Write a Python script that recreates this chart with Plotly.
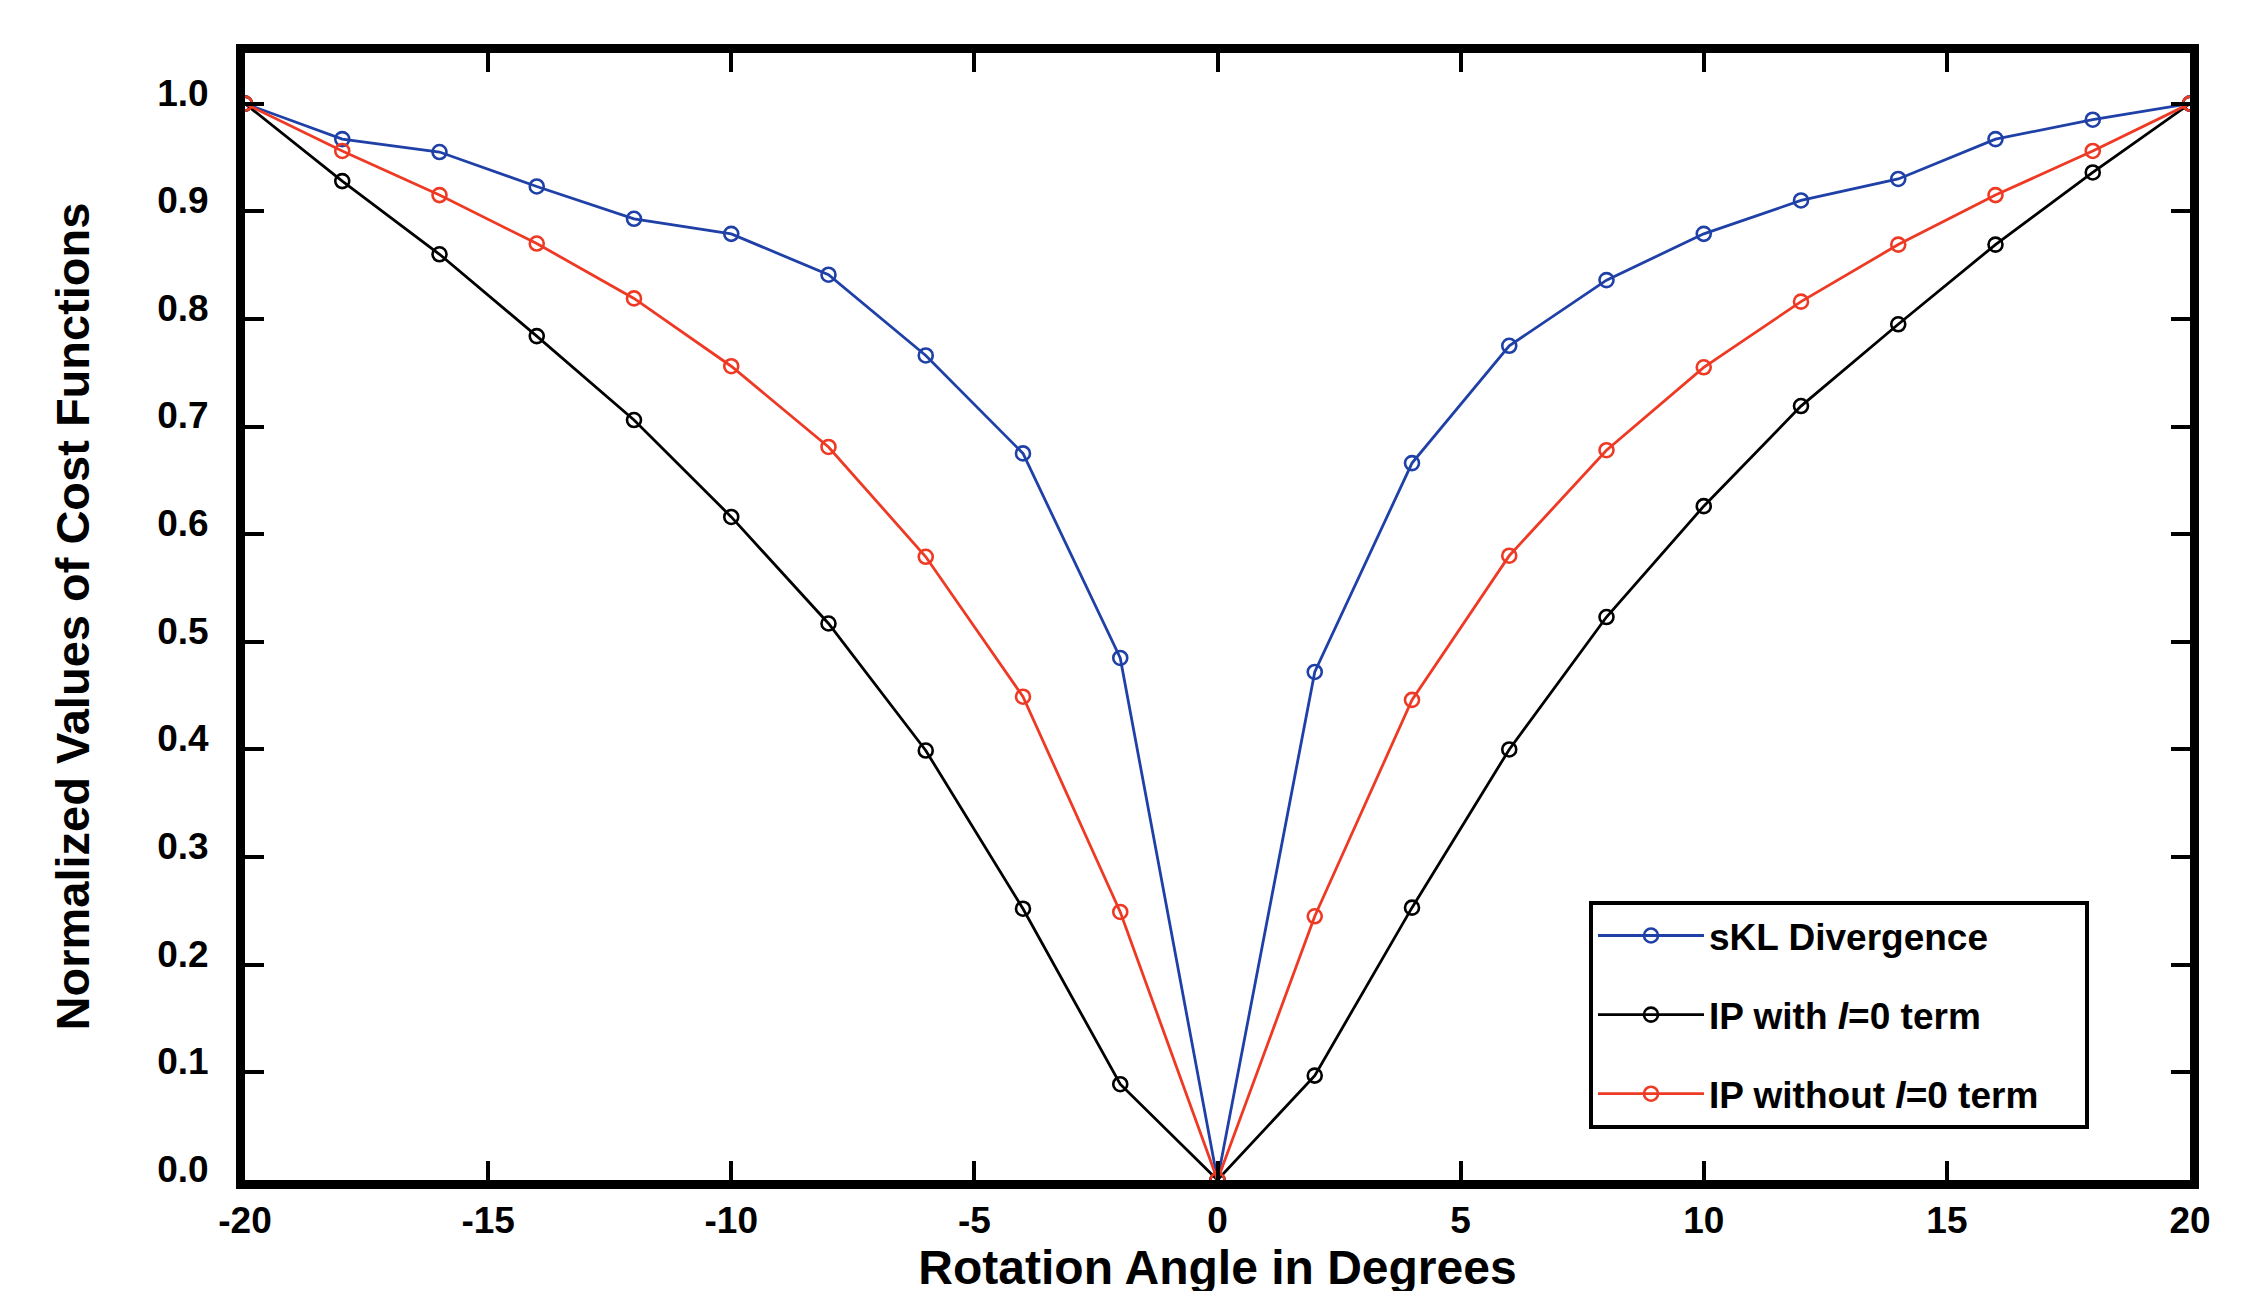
import plotly.graph_objects as go

angles = [-20, -18, -16, -14, -12, -10, -8, -6, -4, -2, 0, 2, 4, 6, 8, 10, 12, 14, 16, 18, 20]
skl = [1.0, 0.967, 0.955, 0.923, 0.893, 0.879, 0.841, 0.766, 0.675, 0.485, 0.0,
       0.472, 0.666, 0.775, 0.836, 0.879, 0.910, 0.930, 0.967, 0.985, 1.0]
ip_with = [1.0, 0.928, 0.860, 0.784, 0.706, 0.616, 0.517, 0.399, 0.252, 0.089, 0.0,
           0.097, 0.253, 0.400, 0.523, 0.626, 0.719, 0.795, 0.869, 0.936, 1.0]
ip_without = [1.0, 0.956, 0.915, 0.870, 0.819, 0.756, 0.681, 0.579, 0.449, 0.249, 0.0,
              0.245, 0.446, 0.580, 0.678, 0.755, 0.816, 0.869, 0.915, 0.956, 1.0]
names = ["sKL Divergence", "IP with <i>l</i>=0 term",
         "IP without <i>l</i>=0 term\u00a0\u00a0\u00a0\u00a0"]
colors = ["#1f40a6", "#000000", "#ee3a25"]
x_ticks = [-20, -15, -10, -5, 0, 5, 10, 15, 20]
x_tick_text = ["-20", "-15", "-10", "-5", "0", "5", "10", "15", "20"]
y_ticks = [0.0, 0.1, 0.2, 0.3, 0.4, 0.5, 0.6, 0.7, 0.8, 0.9, 1.0]

FONT = "Liberation Sans, Arial, sans-serif"

fig = go.Figure()
for i, (name, ys, c) in enumerate(zip(names, [skl, ip_with, ip_without], colors)):
    fig.add_trace(go.Scatter(
        x=angles, y=ys, name=name, mode="lines+markers",
        line=dict(color=c, width=2.8),
        marker=dict(symbol="circle-open", size=14, color=c, line=dict(width=2.6, color=c)),
        legendgroup=f"g{i}",
    ))

axis_common = dict(
    showline=True, linewidth=9, linecolor="black", mirror="allticks",
    ticks="inside", ticklen=19, tickwidth=3.5, tickcolor="black",
    showgrid=False, zeroline=False, automargin=False,
    tickfont=dict(family=FONT, size=37, color="black", weight="bold"),
)

fig.update_xaxes(
    range=[-20, 20], tickvals=x_ticks, ticktext=x_tick_text, **axis_common,
    title=dict(text="Rotation Angle in Degrees", standoff=6,
               font=dict(family=FONT, size=48, color="black", weight="bold")),
)
fig.update_yaxes(
    range=[0, 1.047], tickvals=y_ticks, tickformat=".1f",
    ticklabelshift=-11, ticklabelstandoff=20, **axis_common,
    title=dict(text="Normalized Values of Cost Functions", standoff=56,
               font=dict(family=FONT, size=47, color="black", weight="bold")),
)

fig.update_layout(
    width=2246, height=1291,
    margin=dict(l=237, r=64, t=45, b=119, autoexpand=False),
    plot_bgcolor="white", paper_bgcolor="white",
    showlegend=True,
    legend=dict(
        x=0.691, y=0.2476, xanchor="left", yanchor="top",
        bgcolor="white", bordercolor="black", borderwidth=4,
        font=dict(family=FONT, size=37, color="black", weight="bold"),
        traceorder="grouped", tracegroupgap=28, itemwidth=106,
    ),
)

fig.write_html("out.html")
